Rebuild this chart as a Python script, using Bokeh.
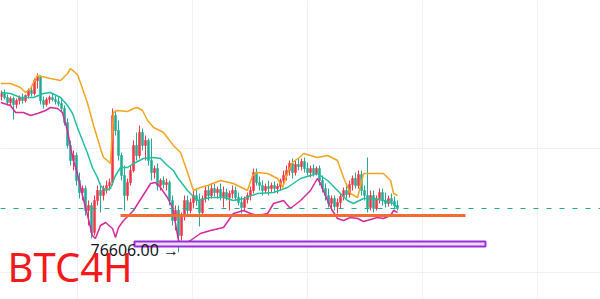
from bokeh.plotting import figure
from bokeh.models import Range1d, Label, FixedTicker, Span, ColumnDataSource
from bokeh.embed import file_html
from bokeh.resources import INLINE

# ---------------- data (BTC, 4H candles) ----------------
opens = [92200, 92500, 92100, 91600, 92000, 91400, 91800, 92100, 91800, 92300,
         92800, 92500, 93800, 94100, 91800, 91400, 91900, 92100, 91900, 91700,
         91500, 91000, 89600, 87300, 85800, 86300, 83800, 82600, 83000, 80800,
         81300, 78600, 81800, 82800, 82300, 83000, 83300, 83600, 90300, 88800,
         86300, 84300, 82300, 83600, 84800, 87300, 86300, 88600, 87300, 87800,
         85800, 84600, 85000, 83300, 83800, 83400, 83600, 81800, 79800, 80800,
         78300, 80300, 81800, 80800, 81600, 82300, 81800, 80600, 82000, 82800,
         82300, 83000, 82600, 82900, 82200, 82600, 82100, 82500, 82800, 82100,
         81600, 81100, 81900, 82300, 82800, 84600, 83600, 83300, 82800, 83200,
         83000, 83300, 83000, 83200, 83800, 84300, 84800, 85500, 84600, 85400,
         85200, 85700, 85000, 84600, 85000, 84500, 85000, 83800, 83000, 82300,
         81500, 82000, 81200, 81600, 82200, 82800, 82400, 83400, 84000, 83300,
         84400, 82800, 82300, 81100, 82300, 81000, 82000, 82600, 81800, 81500,
         82000, 81700, 81300]
highs = [92800, 92900, 92400, 92200, 92200, 92000, 92300, 92500, 92400, 93000,
         93200, 94000, 94500, 94300, 92200, 92100, 92300, 92500, 92300, 92100,
         91900, 91300, 90000, 87800, 86800, 86600, 84600, 83300, 83300, 81800,
         81600, 82300, 83300, 83500, 83300, 83800, 84000, 91000, 90800, 89800,
         86600, 85300, 84000, 85300, 87800, 88600, 89300, 89000, 88300, 88000,
         88000, 85300, 85500, 84000, 84200, 84000, 83800, 82300, 81300, 81300,
         80600, 82300, 82300, 82000, 82800, 83000, 82500, 82300, 83200, 83300,
         83500, 83500, 83200, 83500, 83200, 83000, 82800, 83300, 83200, 82600,
         82200, 82200, 82600, 83200, 85000, 85000, 84200, 83800, 83500, 83800,
         83600, 83700, 83500, 84000, 84800, 85300, 85800, 86000, 85800, 86000,
         86000, 86100, 85600, 85300, 85400, 85200, 85300, 84300, 83500, 83000,
         82300, 82300, 82000, 82500, 83100, 83500, 83800, 84300, 84600, 84800,
         84800, 83300, 86100, 82800, 82800, 82300, 83000, 83000, 82600, 82300,
         82500, 82200, 81800]
lows = [91800, 91900, 91300, 91200, 89900, 91000, 91400, 91500, 91600, 92000,
        92200, 92300, 93000, 91400, 91000, 91200, 91500, 91700, 91400, 91200,
        90600, 89300, 87000, 85300, 84800, 83300, 82000, 81800, 80300, 79300,
        78000, 78300, 81300, 80600, 81800, 82500, 82800, 83300, 88300, 85800,
        83800, 80800, 81800, 83300, 84600, 85800, 86000, 86800, 85800, 85300,
        83800, 84000, 82800, 82800, 83000, 82800, 81300, 79300, 78800, 76606,
        77800, 79800, 80300, 80500, 81000, 81300, 79200, 80300, 81600, 81800,
        82000, 82200, 82000, 81800, 81100, 81800, 80800, 82000, 81800, 81300,
        80500, 80800, 81500, 81800, 82500, 83300, 82800, 82300, 82500, 82300,
        82600, 82600, 82500, 82800, 83400, 83800, 84300, 84000, 84300, 84800,
        84800, 84600, 84300, 84100, 84200, 84300, 83300, 82600, 81800, 81100,
        80800, 80800, 80500, 81000, 81800, 82000, 82100, 82800, 83000, 83000,
        82300, 81800, 80600, 80800, 80600, 80800, 81500, 81300, 81100, 81200,
        81300, 80900, 80800]
closes = [92500, 92100, 91600, 92000, 91400, 91800, 92100, 91800, 92300, 92800,
          92500, 93800, 94200, 91800, 91400, 91900, 92100, 91900, 91700, 91500,
          91000, 89600, 87300, 85800, 86300, 83800, 82600, 83000, 80800, 81300,
          78600, 81800, 82800, 82300, 83000, 83300, 83600, 90300, 88800, 86300,
          84300, 82300, 83600, 84800, 87300, 86300, 88600, 87300, 87800, 85800,
          84600, 85000, 83300, 83800, 83400, 83600, 81800, 79800, 80800, 78300,
          80300, 81800, 80800, 81600, 82300, 81800, 80600, 82000, 82800, 82300,
          83000, 82600, 82900, 82200, 82600, 82100, 82500, 82800, 82100, 81600,
          81100, 81900, 82300, 82800, 84600, 83600, 83300, 82800, 83200, 83000,
          83300, 83000, 83200, 83800, 84300, 84800, 85500, 84600, 85400, 85200,
          85700, 85000, 84600, 85000, 84500, 85000, 83800, 83000, 82300, 81500,
          82000, 81200, 81600, 82200, 82800, 82400, 83400, 84000, 83300, 84400,
          82800, 82300, 81100, 82300, 81000, 82000, 82600, 81800, 81500, 82000,
          81700, 81300, 81000]

# band lines (upper / middle / lower), sampled at candle positions
upper_x = [-0.3, 3, 6.3, 8, 9.7, 10.7, 12, 16.3, 19.7, 22, 23, 25.3, 26.3, 28.7, 30.7,
           33, 34, 35.3, 36.3, 37.3, 38.7, 42, 44, 45.3, 47, 48.7, 50.7, 54, 57.3, 59.7,
           62, 64, 66.3, 68.7, 73, 77.3, 82, 83.7, 85.3, 88.7, 92, 93.7, 95.3, 97, 99.7,
           100.7, 105.3, 108.7, 112, 114, 116.3, 118.7, 120.7, 123, 127.3, 129.7, 130.7, 132]
upper_y = [93500, 93500, 93100, 92600, 93000, 93600, 94300, 94000, 93800, 94500, 95000,
           94400, 93600, 91500, 89300, 87000, 86100, 85800, 85500, 90600, 90800, 90700,
           91000, 91100, 90800, 89800, 89100, 88600, 87300, 86600, 84600, 82800, 83100,
           83300, 83800, 83500, 82800, 84300, 84600, 84500, 84000, 83100, 84500, 85600,
           86200, 86500, 86100, 86300, 85800, 84100, 82500, 82100, 84500, 84500, 84500,
           83800, 82500, 82300]
mid_x = [-0.3, 3, 6.3, 10.7, 14, 16.3, 19.7, 22, 23.7, 25.3, 27, 28.7, 30.3, 32, 33,
         34.7, 36.3, 38, 39.7, 42, 44, 47.3, 50.7, 53, 55.3, 57.3, 58.7, 62, 65.3, 69.7,
         74, 77.3, 80.7, 85.3, 90.7, 95.3, 99.7, 103, 105.3, 108.7, 112, 115.3, 117.3,
         120.7, 124, 127.3, 130.7, 132]
mid_y = [92600, 92500, 92100, 92100, 92500, 92600, 92100, 91300, 90500, 89100, 87800,
         86500, 85100, 84100, 83300, 82800, 83000, 84300, 85100, 85100, 85500, 86000,
         86100, 86000, 85300, 84800, 84100, 82800, 81800, 82100, 82100, 81800, 82000,
         82500, 82600, 83100, 84000, 84300, 84500, 83800, 82800, 81800, 81500, 82000,
         82000, 81800, 81500, 81000]
lower_x = [-0.3, 3, 4.7, 7.3, 9.7, 12, 14.7, 16.3, 18.7, 20.3, 22, 23, 24, 25.3, 27,
           28.7, 30.3, 31.3, 33, 34.7, 37, 38, 39, 40.7, 44, 49.7, 51.3, 53, 55.3, 57,
           58, 59, 60.3, 63, 66.3, 69.7, 74, 77.3, 80.7, 83, 85.3, 88.7, 90.7, 94, 96.3,
           99.7, 103, 105.3, 106.3, 108.7, 110.3, 112, 114, 116.3, 118.7, 120.7, 123,
           125.3, 127.3, 129.7, 130.7, 132]
lower_y = [91600, 91300, 90600, 90600, 90300, 90500, 90800, 91100, 91000, 90600, 88800,
           87100, 85800, 84500, 82300, 80300, 78300, 78000, 79300, 79600, 79000, 78100,
           79100, 79800, 80800, 83500, 83600, 83100, 82100, 81100, 79500, 77800, 77300,
           77800, 78500, 78800, 79100, 80500, 80800, 80500, 80300, 80500, 81500, 81800,
           81000, 81800, 82800, 84000, 83500, 81800, 80800, 80000, 79800, 80100, 80000,
           79700, 79900, 80100, 80000, 80300, 80800, 80600]

support_price = 80300
support_x = [39.67, 154.67]
zone_bottom, zone_top = 77200, 77700
zone_x = [44.33, 161.33]
vgrid_ticks = [25.33, 63.67, 102, 140.33, 178.67]
hgrid_ticks = [87000, 74600]
title_text = "BTC4H"

UP, DOWN = "#f23645", "#22ab94"

idx = list(range(len(opens)))
colors = [UP if c >= o else DOWN for o, c in zip(opens, closes)]
src = ColumnDataSource(dict(x=idx, o=opens, h=highs, l=lows, c=closes, col=colors))

p = figure(width=600, height=299, output_backend="svg", toolbar_location=None,
           x_range=Range1d(-1 / 3, 599 / 3), y_range=Range1d(71900, 101800),
           min_border=0, outline_line_color=None, background_fill_color="white",
           border_fill_color="white")
p.xaxis.visible = False
p.yaxis.visible = False
p.xgrid.ticker = FixedTicker(ticks=vgrid_ticks)
p.ygrid.ticker = FixedTicker(ticks=hgrid_ticks)
p.grid.grid_line_color = "#eef1f5"
p.grid.grid_line_width = 1

# candles
p.segment(x0="x", y0="h", x1="x", y1="l", color="col", line_width=1, source=src)
p.vbar(x="x", width=0.7, top="o", bottom="c", fill_color="col", line_color="col",
       line_width=0.5, source=src)

# bands
p.line(upper_x, upper_y, line_color="#f2a51f", line_width=1.5)
p.line(mid_x, mid_y, line_color="#1fbf9f", line_width=1.5)
p.line(lower_x, lower_y, line_color="#d42a9e", line_width=1.5)

# last price dashed line
p.add_layout(Span(location=closes[-1], dimension="width", line_color="#22ab94",
                  line_dash="5 8", line_width=1))

# support line
p.line(support_x, [support_price, support_price], line_color="#f26d36", line_width=3)

# purple zone
p.quad(left=zone_x[0], right=zone_x[1], bottom=zone_bottom, top=zone_top,
       fill_color="#ecdcfa", line_color="#9a2fd8", line_width=2)

# low label
low_val = min(lows)
p.add_layout(Label(x=29.67, y=76900, text=f"{low_val:.2f} \u2192",
                   text_font="Noto Sans", text_font_size="16px", text_color="#131722",
                   text_baseline="alphabetic", text_align="left"))

# title
p.add_layout(Label(x=7, y=33, x_units="screen", y_units="screen", text=title_text,
                   text_font="Noto Sans", text_font_size="40px", text_color="#f21b1b",
                   text_baseline="alphabetic", text_align="left"))

open("out.html", "w").write(file_html(p, INLINE))
